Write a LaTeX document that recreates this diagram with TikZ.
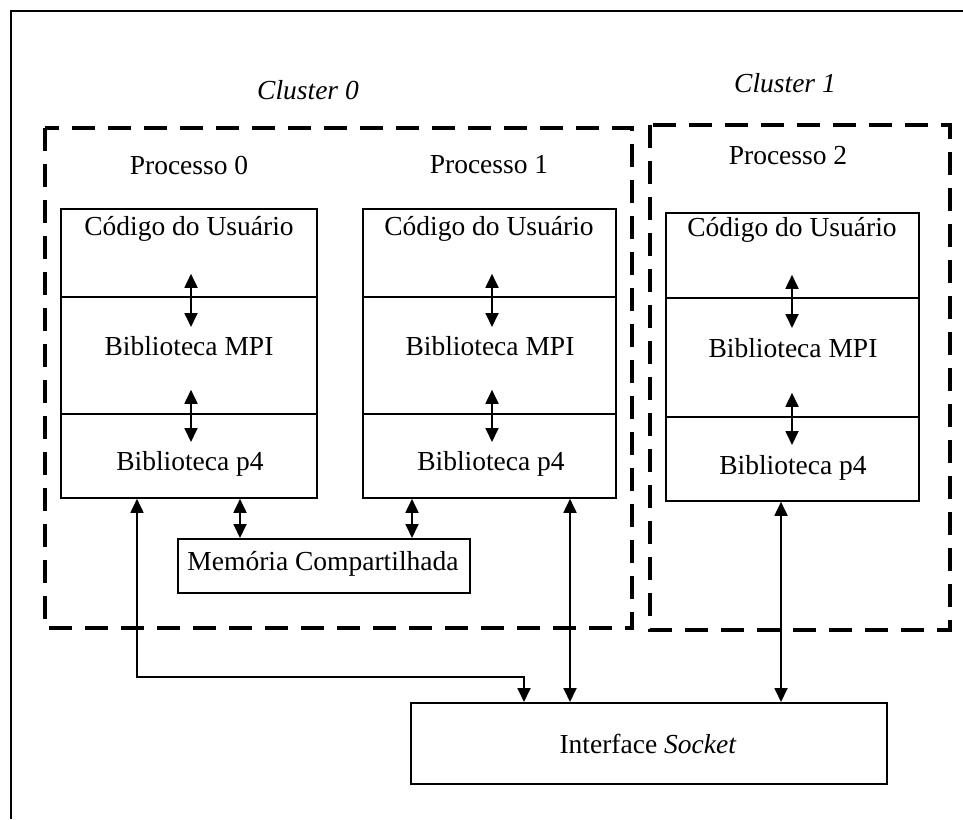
\documentclass[tikz,border=0pt]{standalone}
\usepackage{fontspec}
\setmainfont{Liberation Serif}
\usetikzlibrary{arrows.meta,calc}

\tikzset{
  layer/.style={draw, line width=1.8pt, inner sep=0pt, anchor=north west},
  lbl/.style={inner sep=0pt, font=\fontsize{27.5}{33}\selectfont},
  clbl/.style={inner sep=0pt, font=\fontsize{27.5}{33}\selectfont\itshape},
  clusterbox/.style={line width=4pt, dash pattern=on 23pt off 13pt},
  dbl/.style={line width=1.8pt,
    {Triangle[length=14pt,width=13pt]}-{Triangle[length=14pt,width=13pt]}},
}

\begin{document}
\begin{tikzpicture}[x=1pt,y=-1pt]
\useasboundingbox (0,0) rectangle (963,819);

% outer frame (only left and top edges fall inside the page)
\draw[line width=2.2pt] (11,819) -- (11,11) -- (963,11);

% cluster headings
\node[clbl] (cl0) at (308,90) {Cluster 0};
\node[clbl] (cl1) at (785,83) {Cluster 1};

% dashed cluster outlines
\draw[clusterbox] (45,128) rectangle (632,628);
\draw[clusterbox] (650,125) rectangle (950,630);

% process headings
\node[lbl] (h0) at (189,165) {Processo 0};
\node[lbl] (h1) at (489,165) {Processo 1};
\node[lbl] (h2) at (788,156) {Processo 2};

% process 0 layers
\node[layer, minimum width=256pt, minimum height=88pt]  (c0) at (60,208) {};
\node[layer, minimum width=256pt, minimum height=117pt] (m0) at (60,296) {};
\node[layer, minimum width=256pt, minimum height=84pt]  (p0) at (60,413) {};
% process 1 layers
\node[layer, minimum width=253pt, minimum height=88pt]  (c1) at (362,208) {};
\node[layer, minimum width=253pt, minimum height=117pt] (m1) at (362,296) {};
\node[layer, minimum width=253pt, minimum height=84pt]  (p1) at (362,413) {};
% process 2 layers
\node[layer, minimum width=253pt, minimum height=85pt]  (c2) at (665,212) {};
\node[layer, minimum width=253pt, minimum height=119pt] (m2) at (665,297) {};
\node[layer, minimum width=253pt, minimum height=84pt]  (p2) at (665,416) {};

% layer texts
\node[lbl] (tc0) at (189,229) {Código do Usuário};
\node[lbl] (tm0) at (189,346) {Biblioteca MPI};
\node[lbl] (tp0) at (190,464) {Biblioteca p4};
\node[lbl] (tc1) at (489,229) {Código do Usuário};
\node[lbl] (tm1) at (490,346) {Biblioteca MPI};
\node[lbl] (tp1) at (491,464) {Biblioteca p4};
\node[lbl] (tc2) at (792,230) {Código do Usuário};
\node[lbl] (tm2) at (793,348) {Biblioteca MPI};
\node[lbl] (tp2) at (793,468) {Biblioteca p4};

% shared memory and socket interface
\node[layer, minimum width=292pt, minimum height=54pt] (mem) at (177,538) {};
\node[lbl] (tmem) at (323,564) {Memória Compartilhada};
\node[layer, minimum width=476pt, minimum height=81pt] (sock) at (410,702) {};
\node[lbl] (tsock) at (648,744) {Interface \textit{Socket}};

% arrows between layers
\foreach \p/\x in {0/191,1/492,2/792}{
  \draw[dbl] ([yshift=24pt]c\p.south -| \x,0) -- ([yshift=-31pt]m\p.north -| \x,0);
  \draw[dbl] ([yshift=25pt]m\p.south -| \x,0) -- ([yshift=-29pt]p\p.north -| \x,0);
}

% p4 layers to shared memory
\draw[dbl] (p0.south -| 240,0) -- (mem.north -| 240,0);
\draw[dbl] (p1.south -| 412,0) -- (mem.north -| 412,0);

% p4 layers to socket interface
\coordinate (k0) at (137,677);
\coordinate (k1) at (524,677);
\draw[dbl] (p0.south -| k0) -- (k0) -- (k1) -- (sock.north -| k1);
\draw[dbl] (p1.south -| 570,0) -- (sock.north -| 570,0);
\draw[dbl] (p2.south -| 781,0) -- (sock.north -| 781,0);
\end{tikzpicture}
\end{document}
